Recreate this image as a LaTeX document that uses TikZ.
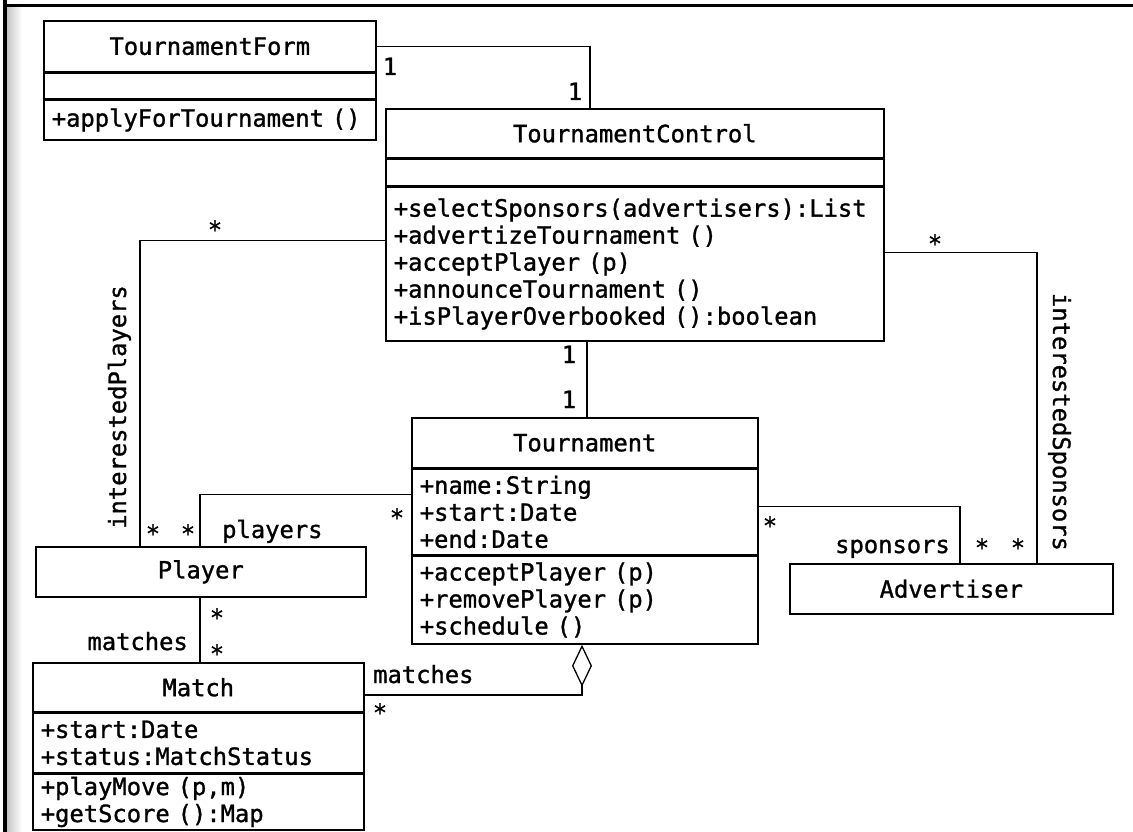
\documentclass[tikz,border=0pt]{standalone}
\usepackage{fontspec}
\newfontfamily\umlfont[FakeBold=1.2]{DejaVu Sans Mono}
\usetikzlibrary{arrows.meta,calc}
\begin{document}
\begin{tikzpicture}[x=1pt,y=-1pt,
  umltext/.style={font=\umlfont\fontsize{23.8}{27}\selectfont},
  cname/.style={umltext,draw,line width=1.6pt,fill=white,inner sep=0pt,anchor=north west},
  clist/.style={umltext,draw,line width=1.6pt,fill=white,inner xsep=8pt,inner ysep=0pt,anchor=north west,align=left},
  conn/.style={line width=1.3pt},
  lbl/.style={umltext,inner sep=0pt,text height=17pt,text depth=5pt},
  mult/.style={umltext,inner sep=0pt,text height=17pt,text depth=5pt,yshift=-8pt}]
\useasboundingbox (0,0) rectangle (1133,832);
% scan frame and shadow
\shade[left color=black!22,right color=white] (7,8) rectangle (22,832);
\draw[line width=4pt] (5,0) -- (5,832);
\draw[line width=3pt] (3,6) -- (1133,6);

% TournamentForm
\node[cname,minimum width=332,minimum height=51] (tfN) at (43,20) {TournamentForm};
\node[cname,minimum width=332,minimum height=25] (tfA) at (tfN.south west) {};
\node[clist,text width=316,minimum height=40] (tfM) at (tfA.south west) {+applyForTournament ()};

% TournamentControl
\node[cname,minimum width=498,minimum height=49] (tcN) at (385,108) {TournamentControl};
\node[cname,minimum width=498,minimum height=26] (tcA) at (tcN.south west) {};
\node[clist,text width=482,minimum height=154] (tcM) at (tcA.south west)
  {+selectSponsors(advertisers):List\\+advertizeTournament ()\\+acceptPlayer (p)\\+announceTournament ()\\+isPlayerOverbooked ():boolean};

% Tournament
\node[cname,minimum width=346,minimum height=50] (tnN) at (411,417) {Tournament};
\node[clist,text width=330,minimum height=85] (tnA) at (tnN.south west)
  {+name:String\\+start:Date\\+end:Date};
\node[clist,text width=330,minimum height=88] (tnM) at (tnA.south west)
  {+acceptPlayer (p)\\+removePlayer (p)\\+schedule ()};

% Player
\node[cname,minimum width=330,minimum height=50] (plN) at (35,546) {Player};

% Match
\node[cname,minimum width=331,minimum height=49] (maN) at (32,662) {Match};
\node[clist,text width=315,minimum height=59] (maA) at (maN.south west)
  {+start:Date\\+status:MatchStatus};
\node[clist,text width=315,minimum height=56] (maM) at (maA.south west)
  {+playMove (p,m)\\+getScore ():Map};

% Advertiser
\node[cname,minimum width=323,minimum height=50] (adN) at (789,563) {Advertiser};

% connectors
\draw[conn] (tfN.east) -| ($(tcN.north west)+(205,0)$);
\draw[conn] ($(tcM.south west)+(202,0)$) -- ($(tnN.north west)+(176,0)$);
\draw[conn] ($(tcM.north west)+(0,54)$) -| ($(plN.north west)+(105,0)$);
\draw[conn] ($(tnA.north west)+(0,26)$) -| ($(plN.north west)+(165,0)$);
\draw[conn] ($(plN.south west)+(165,0)$) -- ($(maN.north west)+(168,0)$);
\draw[conn,{Diamond[open,length=42pt,width=20pt,line width=1.3pt]}-] ($(tnM.south west)+(171,0)$) |- ($(maN.north east)+(0,33)$);
\draw[conn] ($(tnA.north east)+(0,38)$) -| ($(adN.north west)+(171,0)$);
\draw[conn] ($(tcM.north east)+(0,66)$) -| ($(adN.north west)+(248,0)$);

% multiplicities and role names
\node[lbl,anchor=base] (m1) at (390,75) {1};
\node[lbl,anchor=base] (m2) at (575,100) {1};
\node[lbl,anchor=base] (m3) at (569,363) {1};
\node[lbl,anchor=base] (m4) at (569,408) {1};
\node[mult] (s1) at (215,224) {*};
\node[mult] (s2) at (153,528) {*};
\node[mult] (s3) at (188,528) {*};
\node[mult] (s4) at (397,512) {*};
\node[mult] (s5) at (217,612) {*};
\node[mult] (s6) at (217,648) {*};
\node[mult] (s7) at (380,707) {*};
\node[mult] (s8) at (770,520) {*};
\node[mult] (s9) at (982,542) {*};
\node[mult] (s10) at (1018,542) {*};
\node[mult] (s11) at (935,238) {*};
\node[lbl,anchor=base west] (rpl) at (222,538) {players};
\node[lbl,anchor=base east] (rma1) at (188,650) {matches};
\node[lbl,anchor=base west] (rma2) at (373,683) {matches};
\node[lbl,anchor=base east] (rsp) at (950,553) {sponsors};
\node[lbl,anchor=base,rotate=90] (rip) at (126,407) {interestedPlayers};
\node[lbl,anchor=base,rotate=-90] (ris) at (1053,422) {interestedSponsors};
\end{tikzpicture}
\end{document}
